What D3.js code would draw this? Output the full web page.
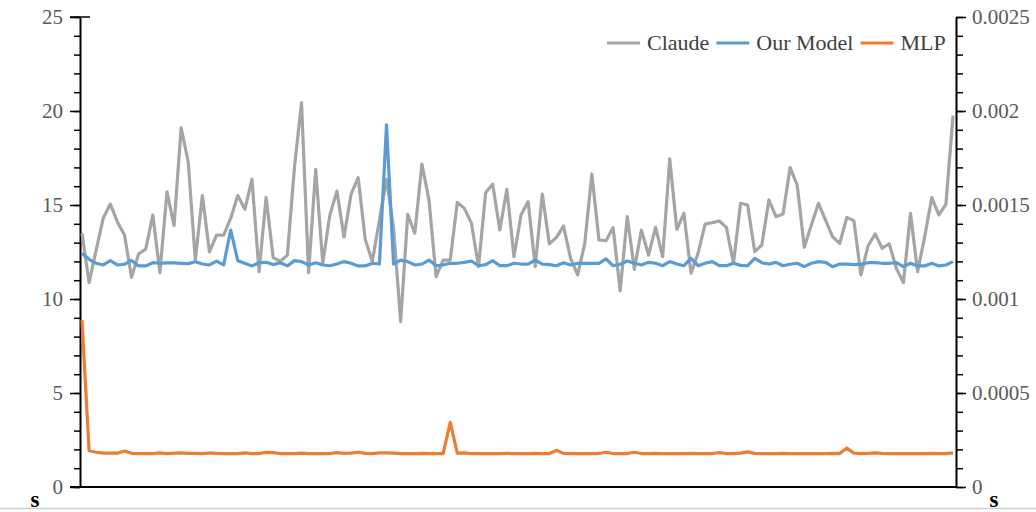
<!DOCTYPE html>
<html>
<head>
<meta charset="utf-8">
<script src="https://cdn.jsdelivr.net/npm/d3@7"></script>
<style>
  body { margin: 0; background: #fff; }
  svg { display: block; }
</style>
</head>
<body>
<svg id="chart"></svg>
<script>
// DATA (one value per step)
var claude = [13.5,10.87,12.6,14.3,15.05,14.1,13.4,11.15,12.4,12.65,14.47,11.4,15.7,13.9,19.1,17.3,12.07,15.5,12.5,13.4,13.4,14.3,15.5,14.77,16.37,11.45,15.4,12.2,12.0,12.34,17.0,20.44,
  11.4,16.9,11.9,14.47,15.74,13.3,15.58,16.45,13.17,12.0,14.2,16.37,13.76,8.8,14.5,13.5,17.18,15.27,11.19,12.07,12.07,15.14,14.82,14.02,11.72,15.66,16.1,13.67,15.83,12.25,14.47,
  15.18,11.72,15.58,12.93,13.28,13.88,12.16,11.28,12.96,16.65,13.14,13.1,13.8,10.43,14.38,11.58,13.67,12.34,13.81,12.25,17.45,13.7,14.56,11.37,12.43,13.99,14.06,14.15,13.81,11.9,15.09,
  15.0,12.52,12.87,15.27,14.38,14.52,16.99,16.06,12.75,13.94,15.09,14.2,13.31,12.96,14.33,14.17,11.28,12.82,13.46,12.7,12.93,11.63,10.87,14.56,11.45,13.31,15.39,14.47,15.04,19.75];

// Our Model is read against the right axis
var ourModel = [0.001243,0.001211,0.00119,0.001181,0.001204,0.001181,0.001185,0.001205,0.001176,0.001176,0.001193,0.00119,0.001192,0.001192,0.00119,0.001188,0.001198,0.001186,0.001181,0.001202,0.001181,0.001367,0.001204,0.00119,0.001176,0.001193,0.001195,0.001183,0.001193,0.001176,0.001204,0.001199,
  0.001181,0.001193,0.001181,0.001177,0.001186,0.001199,0.00119,0.001176,0.001176,0.00119,0.001186,0.001926,0.001186,0.001207,0.001199,0.001181,0.001186,0.001207,0.001177,0.001181,0.00119,0.00119,0.001195,0.001202,0.001177,0.001183,0.001204,0.001177,0.001177,0.00119,0.001186,
  0.001186,0.001207,0.001186,0.001183,0.001177,0.001193,0.001181,0.00119,0.00119,0.00119,0.00119,0.001213,0.001177,0.001185,0.001202,0.00119,0.001181,0.001195,0.00119,0.001177,0.001199,0.001186,0.001177,0.001216,0.001177,0.00119,0.001199,0.001177,0.001177,0.00119,0.001179,
  0.001177,0.001216,0.001193,0.001186,0.001195,0.001177,0.001185,0.00119,0.001172,0.00119,0.001199,0.001195,0.001172,0.001186,0.001186,0.001183,0.001185,0.001193,0.001193,0.00119,0.00119,0.001193,0.001172,0.00119,0.001176,0.001176,0.00119,0.001176,0.001181,0.001199];

var mlp = [8.88,1.93,1.85,1.8,1.8,1.8,1.92,1.79,1.78,1.78,1.78,1.82,1.78,1.8,1.82,1.79,1.79,1.78,1.81,1.79,1.78,1.78,1.78,1.82,1.78,1.78,1.84,1.83,1.78,1.77,1.78,1.8,
  1.78,1.78,1.78,1.78,1.83,1.79,1.8,1.85,1.79,1.78,1.82,1.81,1.8,1.78,1.78,1.78,1.79,1.78,1.78,1.77,3.44,1.8,1.82,1.78,1.78,1.77,1.78,1.78,1.79,1.78,1.78,
  1.78,1.79,1.78,1.78,1.95,1.79,1.78,1.78,1.78,1.78,1.78,1.85,1.78,1.78,1.78,1.85,1.78,1.78,1.79,1.78,1.78,1.78,1.78,1.79,1.78,1.78,1.78,1.83,1.78,1.78,1.8,
  1.87,1.79,1.78,1.78,1.78,1.79,1.78,1.78,1.78,1.78,1.78,1.78,1.79,1.78,2.07,1.8,1.78,1.79,1.81,1.79,1.78,1.78,1.78,1.78,1.78,1.78,1.79,1.78,1.78,1.82];

var leftTicks = [0, 5, 10, 15, 20, 25];
var rightTicks = [0, 0.0005, 0.001, 0.0015, 0.002, 0.0025];
var seriesNames = ["Claude", "Our Model", "MLP"];
var seriesColors = ["#a5a5a5", "#5b9bd5", "#ed7d31"];
var endLabel = "s";

const W = 1036, H = 512;
const plotLeft = 80, plotRight = 956, plotTop = 17, plotBottom = 487;
const font = "'Liberation Serif', 'Times New Roman', serif";

var svg = d3.select("#chart")
    .attr("width", W)
    .attr("height", H)
    .style("font-family", font);

svg.append("rect").attr("width", W).attr("height", H).attr("fill", "#fff");

// light rule along the bottom
svg.append("line")
    .attr("x1", 0).attr("x2", W)
    .attr("y1", 508.5).attr("y2", 508.5)
    .attr("stroke", "#d0d0d0").attr("stroke-width", 1.5);

var x = d3.scaleLinear()
    .domain([0, claude.length - 1])
    .range([82, 953]);
var y = d3.scaleLinear()
    .domain([0, 25])
    .range([plotBottom, plotTop]);
var yR = d3.scaleLinear()
    .domain([0, 0.0025])
    .range([plotBottom, plotTop]);

// minor ticks
svg.append("g")
    .attr("transform", `translate(${plotLeft},0)`)
    .call(d3.axisLeft(y).tickValues(d3.range(0, 26, 1)).tickSize(6).tickFormat(""))
    .call(g => g.select(".domain").remove())
    .selectAll("line").attr("stroke", "#000").attr("stroke-width", 1.5);
svg.append("g")
    .attr("transform", `translate(${plotRight},0)`)
    .call(d3.axisRight(yR).tickValues(d3.range(0, 26, 1).map(d => d / 10000)).tickSize(7).tickFormat(""))
    .call(g => g.select(".domain").remove())
    .selectAll("line").attr("stroke", "#000").attr("stroke-width", 1.5);

// major ticks + labels
var gl = svg.append("g")
    .attr("transform", `translate(${plotLeft},0)`)
    .call(d3.axisLeft(y).tickValues(leftTicks).tickSize(10).tickPadding(7).tickSizeOuter(0));
var gr = svg.append("g")
    .attr("transform", `translate(${plotRight},0)`)
    .call(d3.axisRight(yR).tickValues(rightTicks).tickSize(10).tickPadding(6).tickSizeOuter(0)
        .tickFormat(d => d === 0 ? "0" : String(+d.toFixed(4))));
[gl, gr].forEach(function (g) {
    g.select(".domain").attr("stroke", "#000").attr("stroke-width", 2);
    g.selectAll(".tick line").attr("stroke", "#000").attr("stroke-width", 1.5);
    g.selectAll(".tick text")
        .attr("fill", "#595959")
        .style("font-family", font)
        .style("font-size", "21px");
});

// cap at the top of the left axis
svg.append("line")
    .attr("x1", 70).attr("x2", 90)
    .attr("y1", y(25)).attr("y2", y(25))
    .attr("stroke", "#000").attr("stroke-width", 1.5);

// x axis line (no ticks)
svg.append("line")
    .attr("x1", 70).attr("x2", plotRight)
    .attr("y1", plotBottom).attr("y2", plotBottom)
    .attr("stroke", "#000").attr("stroke-width", 2);

// series
var lineL = d3.line().x((d, i) => x(i)).y(d => y(d));
var lineR = d3.line().x((d, i) => x(i)).y(d => yR(d));

svg.append("path").datum(claude)
    .attr("fill", "none").attr("stroke", seriesColors[0])
    .attr("stroke-width", 3.2).attr("stroke-linejoin", "round")
    .attr("d", lineL);
svg.append("path").datum(ourModel)
    .attr("fill", "none").attr("stroke", seriesColors[1])
    .attr("stroke-width", 3.2).attr("stroke-linejoin", "round")
    .attr("d", lineR);
svg.append("path").datum(mlp)
    .attr("fill", "none").attr("stroke", seriesColors[2])
    .attr("stroke-width", 3.2).attr("stroke-linejoin", "round")
    .attr("d", lineL);

// legend
var lx = 607, ly = 43;
seriesNames.forEach(function (name, i) {
    svg.append("line")
        .attr("x1", lx).attr("x2", lx + 33)
        .attr("y1", ly).attr("y2", ly)
        .attr("stroke", seriesColors[i]).attr("stroke-width", 3);
    var t = svg.append("text")
        .attr("x", lx + 40).attr("y", ly + 7)
        .attr("fill", "#404040")
        .style("font-size", "22px")
        .text(name);
    lx += 40 + t.node().getComputedTextLength() + 7;
});

// "s" labels at both ends of the x axis
[35, 994].forEach(function (px) {
    svg.append("text")
        .attr("x", px).attr("y", 507)
        .attr("text-anchor", "middle")
        .attr("fill", "#000")
        .style("font-size", "23px")
        .style("font-weight", "bold")
        .text(endLabel);
});
</script>
</body>
</html>
